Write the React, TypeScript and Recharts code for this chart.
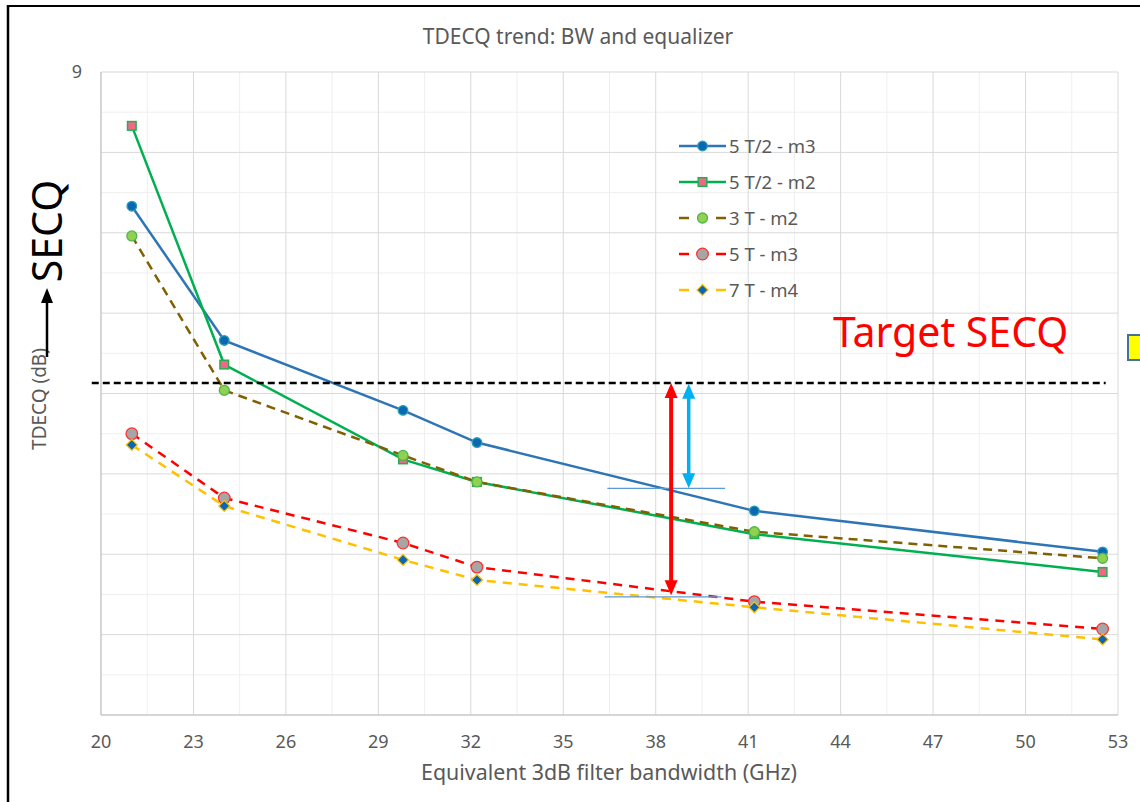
import { LineChart, Line, XAxis, YAxis, CartesianGrid, Legend, ReferenceLine } from "recharts"

// Equivalent 3dB filter bandwidth (GHz)
const bandwidth = [21, 24, 29.8, 32.2, 41.2, 52.5]

// TDECQ (dB), one list per equalizer setting
const t2m3 = [7.33, 5.66, 4.79, 4.39, 3.54, 3.03]
const t2m2 = [8.33, 5.36, 4.18, 3.9, 3.25, 2.78]
const t3m2 = [6.96, 5.04, 4.23, 3.9, 3.28, 2.95]
const t5m3 = [4.5, 3.7, 3.14, 2.84, 2.41, 2.07]
const t7m4 = [4.36, 3.6, 2.93, 2.68, 2.34, 1.94]

const seriesKeys = ["t2m3", "t2m2", "t3m2", "t5m3", "t7m4"]
const seriesNames = ["5 T/2 - m3", "5 T/2 - m2", "3 T - m2", "5 T - m3", "7 T - m4"]

const xTicks = [20, 23, 26, 29, 32, 35, 38, 41, 44, 47, 50, 53]
const xMinor = [21.5, 24.5, 27.5, 30.5, 33.5, 36.5, 39.5, 42.5, 45.5, 48.5, 51.5]
const yMajor = [1, 2, 3, 4, 5, 6, 7, 8, 9]
const yMinor = [1.5, 2.5, 3.5, 4.5, 5.5, 6.5, 7.5, 8.5]
const yLabels = [9]

// annotations drawn on top of the chart
const targetSecq = 5.13
const targetFrom = 19.7
const targetTo = 52.6
const redGap = { x: 38.5, low: 2.49, high: 5.13 }
const blueGap = { x: 39.07, low: 3.82, high: 5.12 }
const upperMark = { y: 3.82, from: 36.43, to: 40.25 }
const lowerMark = { y: 2.47, from: 36.34, to: 40.13 }

const data = bandwidth.map((bw, i) => ({
  bw,
  t2m3: t2m3[i],
  t2m2: t2m2[i],
  t3m2: t3m2[i],
  t5m3: t5m3[i],
  t7m4: t7m4[i],
}))

type Look = { stroke: string; dash?: string; kind: string; fill: string; edge: string; size: number }

const looks: Record<string, Look> = {
  t2m3: { stroke: "#2E75B6", kind: "circle", fill: "#0B66B6", edge: "#2AA0B0", size: 4.8 },
  t2m2: { stroke: "#00B050", kind: "square", fill: "#F2668B", edge: "#22B04E", size: 4.3 },
  t3m2: { stroke: "#806000", dash: "9 6", kind: "circle", fill: "#92D050", edge: "#4CB84C", size: 5 },
  t5m3: { stroke: "#FF0000", dash: "9 7", kind: "circle", fill: "#A6A6A6", edge: "#FF3030", size: 5.8 },
  t7m4: { stroke: "#FFC000", dash: "9 7", kind: "diamond", fill: "#0B66B6", edge: "#FFC000", size: 5.5 },
}

const FONT = "'Noto Sans', sans-serif"
const GREY = "#595959"

function marker(look: Look, cx: number, cy: number, key?: string) {
  const s = look.size
  if (look.kind === "square") {
    return <rect key={key} x={cx - s} y={cy - s} width={2 * s} height={2 * s} fill={look.fill} stroke={look.edge} strokeWidth={1.5} />
  }
  if (look.kind === "diamond") {
    return (
      <polygon
        key={key}
        points={`${cx},${cy - s} ${cx + s},${cy} ${cx},${cy + s} ${cx - s},${cy}`}
        fill={look.fill}
        stroke={look.edge}
        strokeWidth={1.2}
      />
    )
  }
  return <circle key={key} cx={cx} cy={cy} r={s} fill={look.fill} stroke={look.edge} strokeWidth={1.3} />
}

function dotFor(dataKey: string) {
  return (p: any) => marker(looks[dataKey], p.cx, p.cy, `${dataKey}-${p.index}`)
}

function doubleArrow(color: string, shaft: number, headW: number, headL: number) {
  return (p: any) => {
    const x = p.x1
    const top = Math.min(p.y1, p.y2)
    const bottom = Math.max(p.y1, p.y2)
    return (
      <g>
        <line x1={x} y1={top + headL - 1} x2={x} y2={bottom - headL + 1} stroke={color} strokeWidth={shaft} />
        <polygon points={`${x},${top} ${x - headW / 2},${top + headL} ${x + headW / 2},${top + headL}`} fill={color} />
        <polygon points={`${x},${bottom} ${x - headW / 2},${bottom - headL} ${x + headW / 2},${bottom - headL}`} fill={color} />
      </g>
    )
  }
}

function LegendBox({ payload }: any) {
  const items = [...(payload || [])].sort(
    (a: any, b: any) => seriesKeys.indexOf(a.dataKey) - seriesKeys.indexOf(b.dataKey)
  )
  return (
    <div style={{ fontFamily: FONT }}>
      {items.map((entry: any) => {
        const key = entry.dataKey as string
        const look = looks[key]
        return (
          <div key={key} style={{ height: 36, display: "flex", alignItems: "center" }}>
            <svg width={47} height={14} style={{ marginRight: 3 }}>
              {look.dash ? (
                <>
                  <line x1={0} y1={7} x2={10} y2={7} stroke={look.stroke} strokeWidth={2.5} />
                  <line x1={37} y1={7} x2={47} y2={7} stroke={look.stroke} strokeWidth={2.5} />
                </>
              ) : (
                <line x1={0} y1={7} x2={47} y2={7} stroke={look.stroke} strokeWidth={2.5} />
              )}
              {marker(look, 23.5, 7)}
            </svg>
            <span style={{ color: GREY, fontSize: 18.5, lineHeight: "18px" }}>{entry.value}</span>
          </div>
        )
      })}
    </div>
  )
}

export default function App() {
  return (
    <div
      style={{
        position: "absolute",
        left: 0,
        top: 0,
        width: 1140,
        height: 802,
        background: "#fff",
        overflow: "hidden",
        fontFamily: FONT,
      }}
    >
      <LineChart width={1140} height={802} data={data} margin={{ top: 72, right: 22, bottom: 57, left: 0 }}>
        <CartesianGrid stroke="#EFEFEF" horizontalValues={yMinor} verticalValues={xMinor} />
        <CartesianGrid stroke="#D9D9D9" horizontalValues={yMajor} verticalValues={xTicks} />
        <XAxis
          dataKey="bw"
          type="number"
          domain={[20, 53]}
          ticks={xTicks}
          height={30}
          allowDataOverflow
          axisLine={{ stroke: "#BFBFBF" }}
          tickLine={false}
          tickMargin={14}
          tick={{ fill: GREY, fontSize: 18 }}
        />
        <YAxis
          type="number"
          domain={[1, 9]}
          ticks={yLabels}
          width={101}
          axisLine={{ stroke: "#BFBFBF" }}
          tickLine={false}
          tickMargin={13}
          tick={{ fill: GREY, fontSize: 18 }}
        />
        <Legend
          layout="vertical"
          align="center"
          verticalAlign="middle"
          wrapperStyle={{ left: 679, top: 128, width: 200 }}
          content={<LegendBox />}
        />
        {seriesKeys.map((key, i) => (
          <Line
            key={key}
            type="linear"
            dataKey={key}
            name={seriesNames[i]}
            stroke={looks[key].stroke}
            strokeWidth={2.5}
            strokeDasharray={looks[key].dash}
            dot={dotFor(key)}
            activeDot={false}
            isAnimationActive={false}
          />
        ))}
        <ReferenceLine
          segment={[
            { x: targetFrom, y: targetSecq },
            { x: targetTo, y: targetSecq },
          ]}
          stroke="#000"
          strokeWidth={2.5}
          strokeDasharray="7 4"
          ifOverflow="visible"
        />
        <ReferenceLine
          segment={[
            { x: upperMark.from, y: upperMark.y },
            { x: upperMark.to, y: upperMark.y },
          ]}
          stroke="#5B9BD5"
          strokeWidth={1.3}
        />
        <ReferenceLine
          segment={[
            { x: lowerMark.from, y: lowerMark.y },
            { x: lowerMark.to, y: lowerMark.y },
          ]}
          stroke="#5B9BD5"
          strokeWidth={1.3}
        />
        <ReferenceLine
          segment={[
            { x: redGap.x, y: redGap.low },
            { x: redGap.x, y: redGap.high },
          ]}
          shape={doubleArrow("#FF0000", 4, 13, 15)}
        />
        <ReferenceLine
          segment={[
            { x: blueGap.x, y: blueGap.low },
            { x: blueGap.x, y: blueGap.high },
          ]}
          shape={doubleArrow("#00B0F0", 3.5, 13, 15)}
        />
      </LineChart>
      <svg
        width={1140}
        height={802}
        style={{ position: "absolute", left: 0, top: 0, pointerEvents: "none", fontFamily: FONT }}
      >
        <line x1={7} y1={6} x2={1140} y2={6} stroke="#000" strokeWidth={2} />
        <line x1={8} y1={5} x2={8} y2={802} stroke="#000" strokeWidth={2.5} />
        <text x={578} y={44} textAnchor="middle" fill={GREY} fontSize={21}>
          TDECQ trend: BW and equalizer
        </text>
        <text x={609} y={780} textAnchor="middle" fill={GREY} fontSize={21.4}>
          Equivalent 3dB filter bandwidth (GHz)
        </text>
        <text x={46} y={399} transform="rotate(-90 46 399)" textAnchor="middle" fill={GREY} fontSize={19}>
          TDECQ (dB)
        </text>
        <text x={62} y={231} transform="rotate(-90 62 231)" textAnchor="middle" fill="#000" fontSize={41}>
          SECQ
        </text>
        <line x1={47} y1={357} x2={47} y2={300} stroke="#000" strokeWidth={2.5} />
        <polygon points="47,288 41,303 53,303" fill="#000" />
        <text x={833} y={347} fill="#FF0000" fontSize={41}>
          Target SECQ
        </text>
        <rect x={1128} y={335} width={20} height={25} fill="#FFFF00" stroke="#41719C" strokeWidth={2} />
      </svg>
    </div>
  )
}
